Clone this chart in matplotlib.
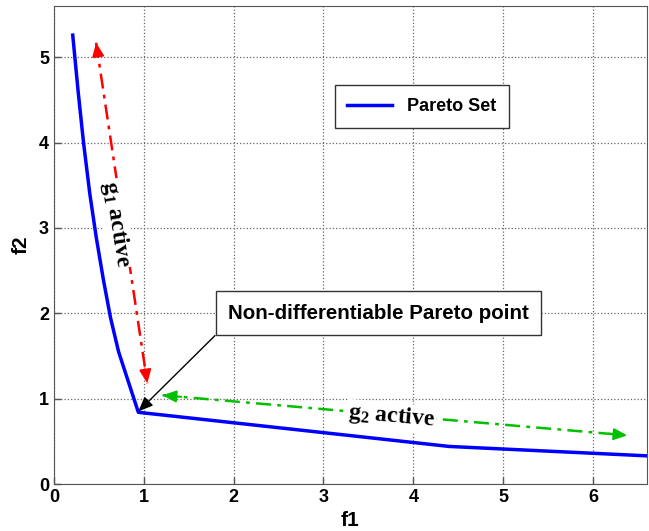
import matplotlib
matplotlib.use("Agg")
import matplotlib.pyplot as plt

plt.rcParams['font.family'] = ['Liberation Sans', 'DejaVu Sans']
plt.rcParams['mathtext.fontset'] = 'custom'
plt.rcParams['mathtext.rm'] = 'Liberation Serif:bold'
plt.rcParams['mathtext.bf'] = 'Liberation Serif:bold'

# Pareto set
f1 = [0.21, 0.27, 0.33, 0.40, 0.47, 0.55, 0.63, 0.72, 0.94, 4.4, 6.6]
f2 = [5.26, 4.60, 4.00, 3.40, 2.90, 2.40, 1.95, 1.55, 0.84, 0.44, 0.33]

# active-constraint arrows (start, end) and their labels
g1_arrow = [(0.47, 5.17), (1.04, 1.18)]
g2_arrow = [(1.21, 1.04), (6.38, 0.57)]
g1_label = (0.69, 3.05, -81)
g2_label = (3.76, 0.79, -5)

# kink annotation
kink_point = (0.94, 0.85)
kink_text = (3.61, 2.0)

fig = plt.figure(figsize=(6.49, 5.31), dpi=100)
ax = fig.add_axes([0.083, 0.0885, 0.914, 0.9])

ax.plot(f1, f2, color='#0000ff', lw=2.5, label='Pareto Set', zorder=3)


def double_arrow(pts, color):
    (x0, y0), (x1, y1) = pts
    ax.plot([x0, x1], [y0, y1], color=color, lw=1.8, ls=(0, (6, 2.5, 1.5, 2.5)), zorder=2)
    for (xa, ya), (xb, yb) in [((x0, y0), (x1, y1)), ((x1, y1), (x0, y0))]:
        ax.annotate('', xy=(xb, yb), xytext=(xb + (xa - xb) * 0.04, yb + (ya - yb) * 0.04),
                    arrowprops=dict(arrowstyle='-|>,head_length=0.8,head_width=0.35',
                                    color=color, lw=1.5, shrinkA=0, shrinkB=0))


double_arrow(g1_arrow, '#ff0000')
double_arrow(g2_arrow, '#00c000')

ax.text(g1_label[0], g1_label[1], r'$\mathbf{g_1}$ active', rotation=g1_label[2],
        family='Liberation Serif', fontweight='bold', fontsize=17,
        ha='center', va='center', rotation_mode='anchor',
        bbox=dict(facecolor='white', edgecolor='none', pad=1), zorder=4)
ax.text(g2_label[0], g2_label[1], r'$\mathbf{g_2}$ active', rotation=g2_label[2],
        family='Liberation Serif', fontweight='bold', fontsize=17,
        ha='center', va='center', rotation_mode='anchor',
        bbox=dict(facecolor='white', edgecolor='none', pad=1), zorder=4)

ax.annotate('Non-differentiable Pareto point', xy=kink_point, xytext=kink_text,
            ha='center', va='center', fontsize=14.8, fontweight='bold',
            bbox=dict(boxstyle='square,pad=0.6', facecolor='white', edgecolor='#333333', lw=1),
            arrowprops=dict(arrowstyle='-|>,head_length=0.6,head_width=0.25', color='black',
                            lw=1, shrinkA=0, shrinkB=0, relpos=(0, 0)),
            zorder=5)

ax.set_xlim(0, 6.6)
ax.set_ylim(0, 5.6)
ax.set_xticks(range(0, 7))
ax.set_yticks(range(0, 6))
ax.grid(True, color='#666666', ls=':', lw=0.9)
ax.tick_params(direction='in', labelsize=13, width=1, length=5, color='#555555')
for lab in ax.get_xticklabels() + ax.get_yticklabels():
    lab.set_fontweight('bold')
for sp in ax.spines.values():
    sp.set_color('#555555')

ax.set_xlabel('f1', fontsize=15, fontweight='bold', labelpad=4)
ax.set_ylabel('f2', fontsize=15, fontweight='bold', labelpad=6)

leg = ax.legend(loc='center', bbox_to_anchor=(0.62, 0.79),
                prop={'weight': 'bold', 'size': 13}, fancybox=False,
                edgecolor='#333333', framealpha=1, handlelength=2.5, borderpad=0.7)
leg.get_frame().set_linewidth(1)

fig.savefig('out.png', dpi=100)
